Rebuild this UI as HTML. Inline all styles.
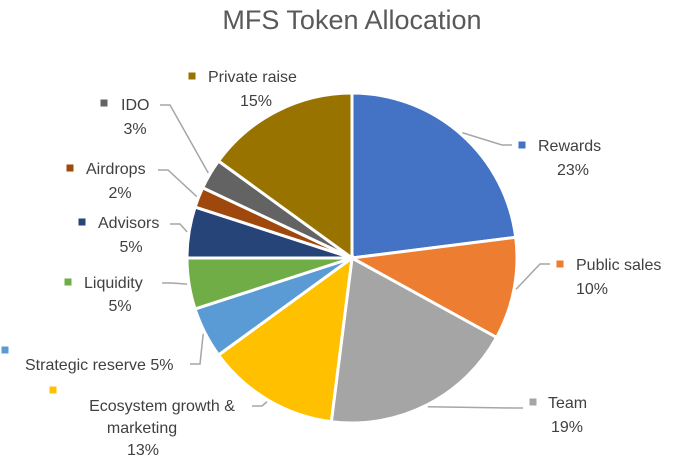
<!DOCTYPE html>
<html><head><meta charset="utf-8"><style>
body{margin:0;background:#fff;}
svg{display:block;font-family:"Liberation Sans",sans-serif;}
</style></head><body>
<svg id="chart" width="679" height="458">
<text x="352" y="29" text-anchor="middle" font-size="27" fill="#595959">MFS Token Allocation</text>
<g id="slices"></g><g id="labels"></g>
</svg>
<script>
const categories=["Rewards","Public sales","Team","Ecosystem growth & marketing","Strategic reserve","Liquidity","Advisors","Airdrops","IDO","Private raise"];
const values=[23,10,19,13,5,5,5,2,3,15];
const colors=["#4472C4","#ED7D31","#A5A5A5","#FFC000","#5B9BD5","#70AD47","#264478","#9E480E","#636363","#997300"];
// label layout: [markerX, markerY, lines..., line end x, line end y]
const labelPos=[
 {mx:522,my:145,lines:[["Rewards",538,151,"start"],["23%",573,175,"middle"]],lx:512,ly:145},
 {mx:560,my:264,lines:[["Public sales",576,270,"start"],["10%",592,294,"middle"]],lx:550,ly:264},
 {mx:533,my:402,lines:[["Team",548,408,"start"],["19%",567,432,"middle"]],lx:523,ly:408},
 {mx:53,my:390,lines:[["Ecosystem growth &",162,411,"middle"],["marketing",142,433,"middle"],["13%",143,455,"middle"]],lx:252,ly:406},
 {mx:5,my:350,lines:[["Strategic reserve 5%",25,370,"start"]],lx:190,ly:364},
 {mx:68,my:282,lines:[["Liquidity",84,288,"start"],["5%",120,311,"middle"]],lx:162,ly:283},
 {mx:82,my:222,lines:[["Advisors",98,228,"start"],["5%",131,252,"middle"]],lx:170,ly:224},
 {mx:70,my:168,lines:[["Airdrops",86,174,"start"],["2%",120,198,"middle"]],lx:158,ly:170},
 {mx:104,my:103,lines:[["IDO",121,110,"start"],["3%",135,134,"middle"]],lx:160,ly:105},
 {mx:192,my:76,lines:[["Private raise",208,82,"start"],["15%",256,106,"middle"]],lx:0,ly:0}
];
const cx=352,cy=258,r=165,NS="http://www.w3.org/2000/svg";
const total=values.reduce((a,b)=>a+b,0);
function pt(a,rr){return [cx+rr*Math.sin(a),cy-rr*Math.cos(a)];}
let a0=0;
const sg=document.getElementById("slices"),lg=document.getElementById("labels");
values.forEach((v,i)=>{
 const a1=a0+v/total*2*Math.PI;
 const p0=pt(a0,r),p1=pt(a1,r);
 const path=document.createElementNS(NS,"path");
 path.setAttribute("d",`M${cx},${cy}L${p0[0]},${p0[1]}A${r},${r} 0 ${a1-a0>Math.PI?1:0} 1 ${p1[0]},${p1[1]}Z`);
 path.setAttribute("fill",colors[i]);path.setAttribute("stroke","#fff");path.setAttribute("stroke-width","3");
 
 
 sg.appendChild(path);
 const L=labelPos[i];
 if(L.lx){
  const mid=(a0+a1)/2,e=pt(mid,r+2);
  const ln=document.createElementNS(NS,"polyline");
  const bx=L.lx<cx?L.lx+10:L.lx-10;
  ln.setAttribute("points",`${e[0]},${e[1]} ${bx},${L.ly} ${L.lx},${L.ly}`);
  ln.setAttribute("fill","none");ln.setAttribute("stroke","#A6A6A6");ln.setAttribute("stroke-width","1.5");
  
  
  lg.appendChild(ln);
 }
 const m=document.createElementNS(NS,"rect");
 m.setAttribute("x",L.mx-3.5);m.setAttribute("y",L.my-3.5);m.setAttribute("width",7);m.setAttribute("height",7);m.setAttribute("fill",colors[i]);
 
 
 lg.appendChild(m);
 L.lines.forEach(t=>{
  const tx=document.createElementNS(NS,"text");
  tx.textContent=t[0];tx.setAttribute("x",t[1]);tx.setAttribute("y",t[2]);tx.setAttribute("text-anchor",t[3]);
  tx.setAttribute("font-size","16");tx.setAttribute("fill","#404040");
  
  
  lg.appendChild(tx);
 });
 a0=a1;
});
</script>
</body></html>
